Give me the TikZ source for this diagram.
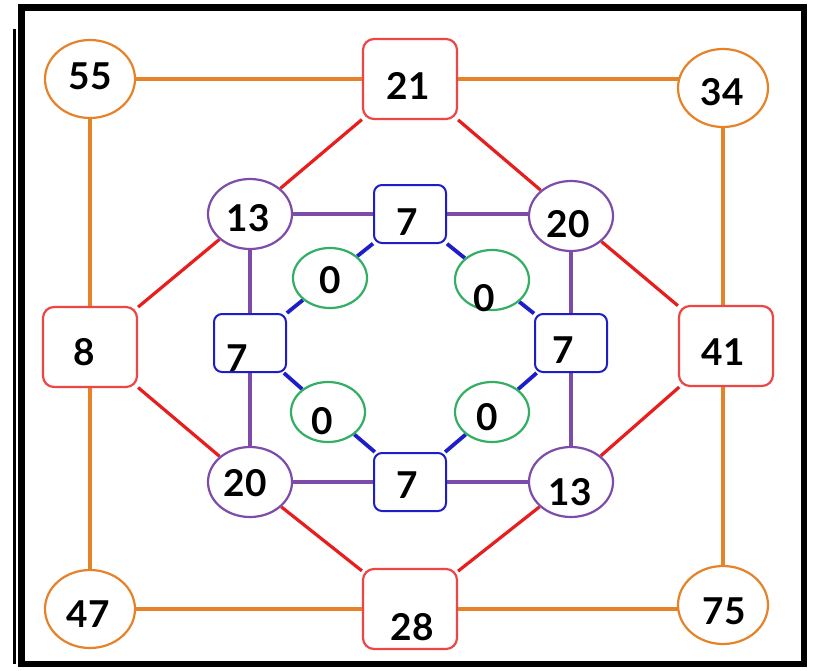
\documentclass[tikz,border=0pt]{standalone}
\usepackage{fontspec}
\setmainfont{Lato}
\usetikzlibrary{shapes.geometric,backgrounds}
\definecolor{cOr}{RGB}{230,130,40}
\definecolor{cRd}{RGB}{232,30,30}
\definecolor{cRdB}{RGB}{238,70,70}
\definecolor{cPu}{RGB}{125,75,170}
\definecolor{cBl}{RGB}{30,30,200}
\definecolor{cGr}{RGB}{50,175,100}
\begin{document}
\begin{tikzpicture}[x=1pt,y=-1pt,
  num/.style={font=\fontsize{37}{37}\selectfont\bfseries, inner sep=0pt},
  oell/.style={ellipse, draw=cOr, line width=2.2pt, fill=white, minimum width=90pt, minimum height=78pt, inner sep=0pt},
  rbox/.style={rectangle, rounded corners=11pt, draw=cRdB, line width=2.2pt, fill=white, minimum width=94pt, minimum height=80pt, inner sep=0pt},
  pell/.style={ellipse, draw=cPu, line width=2.2pt, fill=white, minimum width=84pt, minimum height=70pt, inner sep=0pt},
  bbox/.style={rectangle, rounded corners=8pt, draw=cBl, line width=2pt, fill=white, minimum width=72pt, minimum height=58pt, inner sep=0pt},
  gell/.style={ellipse, draw=cGr, line width=2.2pt, fill=white, minimum width=74pt, minimum height=60pt, inner sep=0pt},
  oline/.style={draw=cOr, line width=4.2pt},
  rline/.style={draw=cRd, line width=3.2pt},
  pline/.style={draw=cPu, line width=3.2pt},
  bline/.style={draw=cBl, line width=3.8pt}
]
\useasboundingbox (0,0) rectangle (814,670);

% outer ring
\node[oell] (n55) at (90,79) {};
\node[rbox] (n21) at (410,79) {};
\node[oell] (n34) at (723,88) {};
\node[rbox] (n8)  at (90,347) {};
\node[rbox] (n41) at (726,346) {};
\node[oell] (n47) at (90,609) {};
\node[rbox] (n28) at (410,609) {};
\node[oell] (n75) at (723,605) {};

% purple ring
\node[pell] (a13) at (250,214) {};
\node[pell] (a20) at (571,216) {};
\node[pell] (b20) at (250,482) {};
\node[pell] (b13) at (571,482) {};

% blue boxes
\node[bbox] (t7) at (410,214) {};
\node[bbox] (l7) at (250,343) {};
\node[bbox] (r7) at (571,343) {};
\node[bbox] (d7) at (410,482) {};

% green ellipses
\node[gell] (g1) at (330,278) {};
\node[gell] (g2) at (492,280) {};
\node[gell] (g3) at (328,412) {};
\node[gell] (g4) at (492,412) {};

\begin{scope}[on background layer]
\fill[white] (0,0) rectangle (814,670);
% orange
\path[oline] (n55.center) -- (n21.center);
\path[oline] (n21.center) -- (n21.center -| n34.center);
\path[oline] (n55.center) -- (n8.center);
\path[oline] (n8.center) -- (n47.center);
\path[oline] (n34.center) -- (n34.center |- n41.center);
\path[oline] (n34.center |- n41.center) -- (n75.center);
\path[oline] (n47.center) -- (n28.center);
\path[oline] (n28.center) -- (n28.center -| n75.center);
% red
\path[rline] (n21) -- (a13);
\path[rline] (n21) -- (a20);
\path[rline] (n8) -- (a13);
\path[rline] (n8) -- (b20);
\path[rline] (n41) -- (a20);
\path[rline] (n41) -- (b13);
\path[rline] (n28) -- (b20);
\path[rline] (n28) -- (b13);
% purple
\path[pline] (a13.center) -- (t7.center);
\path[pline] (t7.center) -- (t7.center -| a20.center);
\path[pline] (a13.center) -- (l7.center);
\path[pline] (l7.center) -- (b20.center);
\path[pline] (a20.center) -- (r7.center);
\path[pline] (r7.center) -- (b13.center);
\path[pline] (b20.center) -- (d7.center);
\path[pline] (d7.center) -- (b13.center);
% blue
\path[bline] (t7) -- (g1);
\path[bline] (t7) -- (g2);
\path[bline] (l7) -- (g1);
\path[bline] (l7) -- (g3);
\path[bline] (r7) -- (g2);
\path[bline] (r7) -- (g4);
\path[bline] (d7) -- (g3);
\path[bline] (d7) -- (g4);
\end{scope}

% frame
\draw[line width=6.5pt, black] (21.5,7.5) rectangle (804,664);
\draw[line width=3pt, black] (14.5,29) -- (14.5,664);

% texts
\node[num] (x55) at (90,76) {55};
\node[num] (x21) at (408,86) {21};
\node[num] (x34) at (722,92) {34};
\node[num] (x8)  at (84,352) {8};
\node[num] (x41) at (723,352) {41};
\node[num] (x47) at (88,614) {47};
\node[num] (x28) at (412,627) {28};
\node[num] (x75) at (724,611) {75};

\node[num] (y13a) at (248,218) {13};
\node[num] (y20a) at (568,224) {20};
\node[num] (y20b) at (245,483) {20};
\node[num] (y13b) at (570,492) {13};

\node[num] (z7t) at (407,222) {7};
\node[num] (z7l) at (237,358) {7};
\node[num] (z7r) at (563,350) {7};
\node[num] (z7d) at (407,485) {7};

\node[num] (w1) at (330,280) {0};
\node[num] (w2) at (484,298) {0};
\node[num] (w3) at (322,421) {0};
\node[num] (w4) at (487,417) {0};
\end{tikzpicture}
\end{document}
